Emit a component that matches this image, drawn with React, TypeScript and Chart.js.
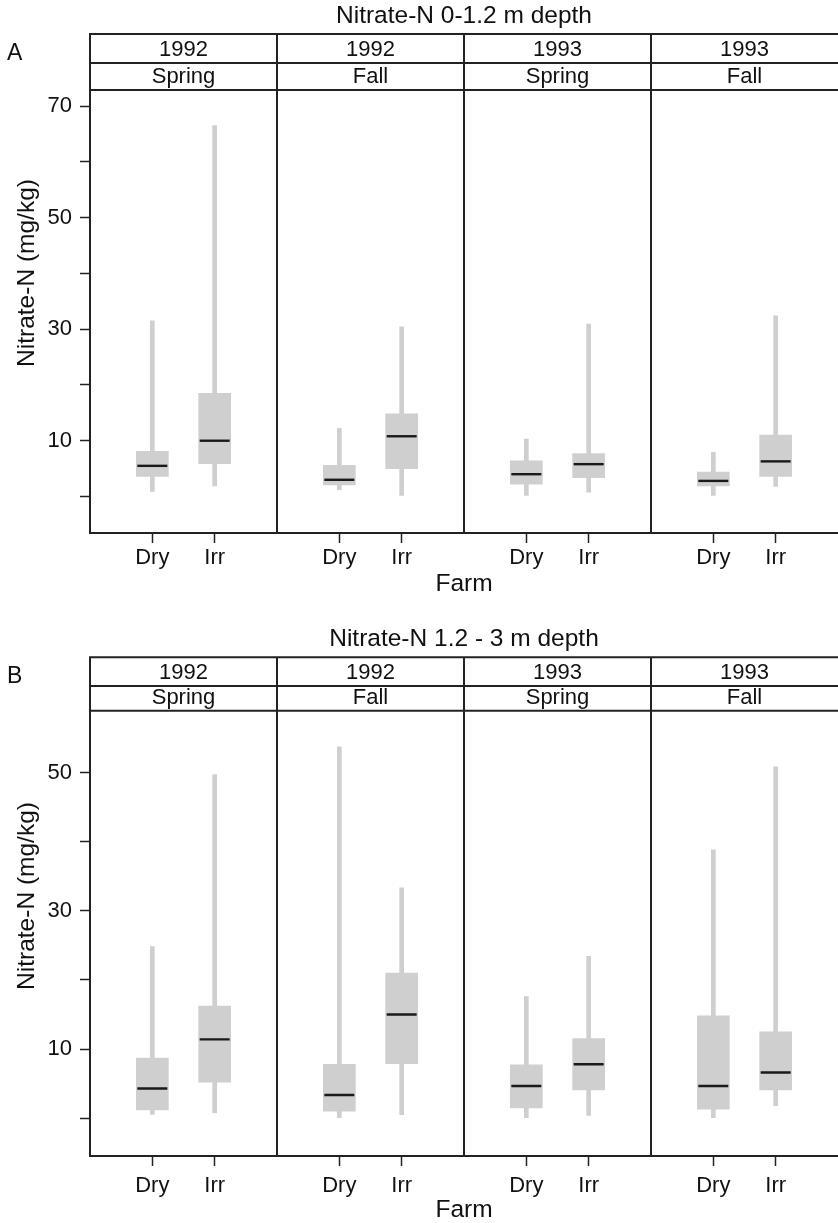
import React, { useEffect, useRef } from 'react';
import Chart from 'chart.js/auto';

// ---------- data ----------
const facetYears = ['1992', '1992', '1993', '1993'];
const facetSeasons = ['Spring', 'Fall', 'Spring', 'Fall'];
const farms = ['Dry', 'Irr'];

// order of every stat array: facet1 Dry, facet1 Irr, facet2 Dry, facet2 Irr, ...
// Panel A: Nitrate-N 0-1.2 m depth
const shallowMin = [0.9, 1.9, 1.2, 0.2, 0.2, 0.8, 0.2, 1.8];
const shallowQ1 = [3.6, 5.9, 2.1, 5.0, 2.2, 3.4, 1.9, 3.6];
const shallowMedian = [5.5, 10.0, 3.0, 10.8, 4.0, 5.8, 2.8, 6.3];
const shallowQ3 = [8.1, 18.5, 5.6, 14.8, 6.4, 7.7, 4.4, 11.0];
const shallowMax = [31.5, 66.5, 12.2, 30.4, 10.3, 30.9, 7.9, 32.4];
const shallowYRange = [-6.54, 72.87];
const shallowYTicks = [0, 10, 20, 30, 40, 50, 60, 70];
const shallowYLabels = [10, 30, 50, 70];

// Panel B: Nitrate-N 1.2 - 3 m depth
const deepMin = [0.55, 0.8, 0.0, 0.5, 0.0, 0.4, 0.0, 1.8];
const deepQ1 = [1.2, 5.2, 1.0, 7.9, 1.5, 4.1, 1.3, 4.1];
const deepMedian = [4.3, 11.4, 3.35, 15.0, 4.65, 7.8, 4.65, 6.6];
const deepQ3 = [8.7, 16.2, 7.8, 21.0, 7.7, 11.5, 14.8, 12.5];
const deepMax = [24.8, 49.7, 53.7, 33.3, 17.6, 23.4, 38.8, 50.8];
const deepYRange = [-5.47, 58.93];
const deepYTicks = [0, 10, 20, 30, 40, 50];
const deepYLabels = [10, 30, 50];

// ---------- style ----------
const FONT = "'Liberation Sans', Arial, Helvetica, sans-serif";
const TEXT = '#111111';
const FRAME = '#222222';
const BOX = '#cfcfcf';
const MEDIAN = '#1a1a1a';
const WIDTH = 838;

type Layout = {
  height: number;
  top: number;
  titlePad: { top: number; bottom: number };
  xAxisHeight: number;
  xTickPad: number;
  subPad: { top: number; bottom: number };
  stripTop: number;
  stripMid: number;
  yTitleY: number;
};

type PanelSpec = {
  letter: string;
  title: string;
  yTitle: string;
  min: number[];
  q1: number[];
  med: number[];
  q3: number[];
  max: number[];
  yRange: number[];
  yTicks: number[];
  yLabels: number[];
  layout: Layout;
};

const panels: PanelSpec[] = [
  {
    letter: 'A',
    title: 'Nitrate-N 0-1.2 m depth',
    yTitle: 'Nitrate-N (mg/kg)',
    min: shallowMin,
    q1: shallowQ1,
    med: shallowMedian,
    q3: shallowQ3,
    max: shallowMax,
    yRange: shallowYRange,
    yTicks: shallowYTicks,
    yLabels: shallowYLabels,
    layout: {
      height: 611,
      top: 0,
      titlePad: { top: 1.3, bottom: 59.3 },
      xAxisHeight: 36,
      xTickPad: 3.5,
      subPad: { top: 2.75, bottom: 14.75 },
      stripTop: 34,
      stripMid: 63,
      yTitleY: 273,
    },
  },
  {
    letter: 'B',
    title: 'Nitrate-N 1.2 - 3 m depth',
    yTitle: 'Nitrate-N (mg/kg)',
    min: deepMin,
    q1: deepQ1,
    med: deepMedian,
    q3: deepQ3,
    max: deepMax,
    yRange: deepYRange,
    yTicks: deepYTicks,
    yLabels: deepYLabels,
    layout: {
      height: 600,
      top: 623,
      titlePad: { top: 1.3, bottom: 57 },
      xAxisHeight: 41,
      xTickPad: 8.5,
      subPad: { top: 0.75, bottom: 0.75 },
      stripTop: 34.3,
      stripMid: 63,
      yTitleY: 273,
    },
  },
];

const facetPlugin = {
  id: 'facetFrame',
  afterDraw(chart: any, _args: any, opts: any) {
    const ctx: CanvasRenderingContext2D = chart.ctx;
    const area = chart.chartArea;
    const xs = facetYears.map((_, i) => chart.scales['x' + i]);
    ctx.save();
    ctx.strokeStyle = FRAME;
    ctx.lineWidth = 2;
    ctx.beginPath();
    for (const y of [opts.stripTop, opts.stripMid, area.top, area.bottom]) {
      ctx.moveTo(area.left - 1, y);
      ctx.lineTo(area.right + 4, y);
    }
    for (const s of xs) {
      ctx.moveTo(s.left, opts.stripTop - 1);
      ctx.lineTo(s.left, area.bottom + 1);
    }
    ctx.stroke();

    ctx.fillStyle = TEXT;
    ctx.textAlign = 'center';
    ctx.textBaseline = 'middle';
    ctx.font = `22px ${FONT}`;
    xs.forEach((s: any, i: number) => {
      const cx = (s.left + s.right) / 2;
      ctx.fillText(facetYears[i], cx, (opts.stripTop + opts.stripMid) / 2 + 1);
      ctx.fillText(facetSeasons[i], cx, (opts.stripMid + area.top) / 2);
    });

    ctx.textAlign = 'left';
    ctx.font = `23px ${FONT}`;
    ctx.fillText(opts.letter, 7, 54);

    ctx.save();
    ctx.translate(27, opts.yTitleY);
    ctx.rotate(-Math.PI / 2);
    ctx.textAlign = 'center';
    ctx.font = `24.5px ${FONT}`;
    ctx.fillText(opts.yTitle, 0, 0);
    ctx.restore();

    ctx.restore();
  },
};

function buildConfig(spec: PanelSpec): any {
  const L = spec.layout;
  const datasets: any[] = [];
  const scales: any = {
    y: {
      type: 'linear',
      position: 'left',
      min: spec.yRange[0],
      max: spec.yRange[1],
      afterBuildTicks: (axis: any) => {
        axis.ticks = spec.yTicks.map((v) => ({ value: v }));
      },
      afterFit: (scale: any) => {
        scale.width = 90;
        scale.paddingTop = 0;
        scale.paddingBottom = 0;
        scale.paddingLeft = 0;
        scale.paddingRight = 0;
      },
      grid: {
        drawOnChartArea: false,
        drawTicks: true,
        tickLength: 10,
        tickColor: FRAME,
        tickWidth: 1.5,
      },
      border: { display: false },
      ticks: {
        autoSkip: false,
        padding: 8,
        color: TEXT,
        font: { family: FONT, size: 22 },
        callback: (v: any) => (spec.yLabels.includes(Number(v)) ? String(v) : ''),
      },
    },
  };

  facetYears.forEach((_, f) => {
    const xid = 'x' + f;
    scales[xid] = {
      type: 'linear',
      axis: 'x',
      position: 'bottom',
      stack: 'facets',
      stackWeight: 1,
      min: 0,
      max: farms.length + 1,
      offset: false,
      afterBuildTicks: (axis: any) => {
        axis.ticks = farms.map((_, j) => ({ value: j + 1 }));
      },
      afterFit: (scale: any) => {
        scale.height = L.xAxisHeight;
        scale.paddingLeft = 0;
        scale.paddingRight = 0;
        scale.paddingTop = 0;
        scale.paddingBottom = 0;
      },
      grid: {
        offset: false,
        drawOnChartArea: false,
        drawTicks: true,
        tickLength: 10,
        tickColor: FRAME,
        tickWidth: 1.5,
      },
      border: { display: false },
      ticks: {
        autoSkip: false,
        maxRotation: 0,
        minRotation: 0,
        padding: L.xTickPad,
        color: TEXT,
        font: { family: FONT, size: 22, lineHeight: 1 },
        callback: (v: any) => farms[Number(v) - 1] ?? '',
      },
    };
    const idx = farms.map((_, j) => f * farms.length + j);
    datasets.push({
      type: 'scatter',
      xAxisID: xid,
      yAxisID: 'y',
      order: 1,
      data: idx.map((k, j) => ({ x: j + 1, y: spec.med[k] })),
      pointStyle: 'line',
      pointRadius: 15,
      pointHoverRadius: 15,
      pointBorderWidth: 2.4,
      borderWidth: 2.4,
      pointBorderColor: MEDIAN,
      borderColor: MEDIAN,
      pointBackgroundColor: MEDIAN,
    });
    datasets.push({
      type: 'bar',
      xAxisID: xid,
      yAxisID: 'y',
      order: 2,
      grouped: false,
      barThickness: 32,
      backgroundColor: BOX,
      borderWidth: 0,
      data: idx.map((k, j) => ({ x: j + 1, y: [spec.q1[k], spec.q3[k]] })),
    });
    datasets.push({
      type: 'bar',
      xAxisID: xid,
      yAxisID: 'y',
      order: 3,
      grouped: false,
      barThickness: 4,
      backgroundColor: BOX,
      borderWidth: 0,
      data: idx.map((k, j) => ({ x: j + 1, y: [spec.min[k], spec.max[k]] })),
    });
  });

  return {
    type: 'bar',
    data: { datasets },
    options: {
      responsive: false,
      maintainAspectRatio: false,
      devicePixelRatio: 1,
      animation: false,
      events: [],
      layout: { padding: 0, autoPadding: false },
      scales,
      plugins: {
        legend: { display: false },
        tooltip: { enabled: false },
        title: {
          display: true,
          text: spec.title,
          fullSize: false,
          color: TEXT,
          font: { family: FONT, size: 24.5, weight: 'normal', lineHeight: 1.2 },
          padding: spec.layout.titlePad,
        },
        subtitle: {
          display: true,
          text: 'Farm',
          position: 'bottom',
          fullSize: false,
          color: TEXT,
          font: { family: FONT, size: 24.5, weight: 'normal', lineHeight: 1 },
          padding: spec.layout.subPad,
        },
        facetFrame: {
          letter: spec.letter,
          yTitle: spec.yTitle,
          stripTop: L.stripTop,
          stripMid: L.stripMid,
          yTitleY: L.yTitleY,
        },
      },
    },
    plugins: [facetPlugin],
  };
}

function Panel({ spec }: { spec: PanelSpec }) {
  const ref = useRef<HTMLCanvasElement | null>(null);
  useEffect(() => {
    if (!ref.current) return;
    const chart = new Chart(ref.current, buildConfig(spec));
    return () => chart.destroy();
  }, [spec]);
  return (
    <canvas
      ref={ref}
      width={WIDTH}
      height={spec.layout.height}
      style={{
        position: 'absolute',
        left: 0,
        top: spec.layout.top,
        width: WIDTH,
        height: spec.layout.height,
        display: 'block',
      }}
    />
  );
}

export default function App() {
  return (
    <div
      style={{
        position: 'absolute',
        left: 0,
        top: 0,
        width: WIDTH,
        height: 1223,
        overflow: 'hidden',
        background: '#ffffff',
      }}
    >
      {panels.map((p) => (
        <Panel key={p.letter} spec={p} />
      ))}
    </div>
  );
}
